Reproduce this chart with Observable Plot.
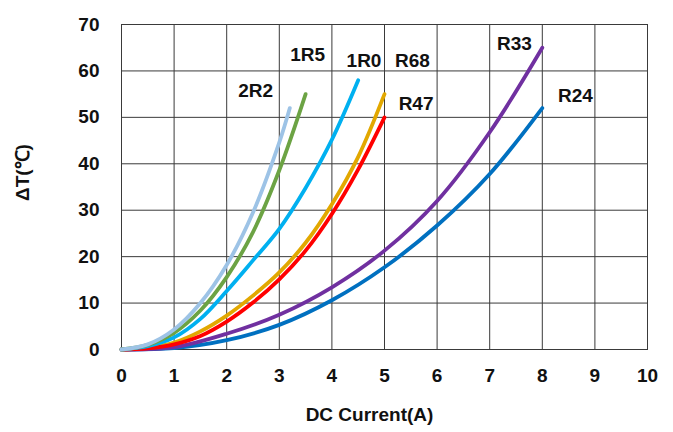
<!DOCTYPE html>
<html><head><meta charset="utf-8">
<script src="https://cdn.jsdelivr.net/npm/d3@7"></script>
<script src="https://cdn.jsdelivr.net/npm/@observablehq/plot@0.6"></script>
<style>
body{margin:0;background:#fff;}
svg{font-family: Arial, "Liberation Sans", sans-serif;}
</style>
</head><body><div id="chart"></div>
<script>
// Series (draw order: first drawn at the bottom)
const seriesNames  = ["R24", "R33", "R68", "R47", "1R0", "1R5", "2R2"];
const seriesColors = ["#0070C0", "#7030A0", "#E2A800", "#FF0000", "#00B0F0", "#6CA344", "#9DC3E6"];

// DC current (A) and temperature rise ΔT (℃) for each part
const current_R24 = [0, 1, 2, 3, 4, 5, 6, 7, 8];
const dT_R24      = [0, 0.3, 2.0, 5.3, 10.6, 17.7, 26.7, 37.8, 52];

const current_R33 = [0, 1, 2, 3, 4, 5, 6, 7, 8];
const dT_R33      = [0, 0.5, 3.4, 7.5, 13.4, 21.3, 32, 46.8, 65];

const current_R68 = [0, 0.5, 1, 1.5, 2, 2.5, 3, 3.5, 4, 4.5, 5];
const dT_R68      = [0, 0.4, 1.5, 3.9, 7.3, 11.6, 16.6, 23, 31.3, 41.5, 55];

const current_R47 = [0, 0.5, 1, 1.5, 2, 2.5, 3, 3.5, 4, 4.5, 5];
const dT_R47      = [0, 0.25, 1.1, 2.9, 6.0, 10.1, 15.1, 21.3, 29.2, 38.8, 50];

const current_1R0 = [0, 0.5, 1, 1.5, 2, 2.5, 3, 3.5, 4, 4.5];
const dT_1R0      = [0, 0.7, 2.6, 6.6, 12.6, 19.2, 26, 34.8, 45.2, 58];

const current_1R5 = [0, 0.5, 1, 1.5, 2, 2.5, 3, 3.5];
const dT_1R5      = [0, 1.0, 3.6, 8.4, 15.6, 25.3, 38.6, 55];

const current_2R2 = [0, 0.5, 1, 1.5, 2, 2.5, 3, 3.2];
const dT_2R2      = [0, 1.1, 4.3, 10, 18.2, 29.5, 44.6, 52];

const seriesCurrent = [current_R24, current_R33, current_R68, current_R47, current_1R0, current_1R5, current_2R2];
const seriesDT      = [dT_R24, dT_R33, dT_R68, dT_R47, dT_1R0, dT_1R5, dT_2R2];

// Curve labels (name, anchor position in data units)
const labelNames = ["2R2", "1R5", "1R0", "R68", "R47", "R33", "R24"];
const labelX     = [2.55, 3.54, 4.61, 5.53, 5.60, 7.47, 8.63];
const labelY     = [55.8, 63.5, 62.1, 62.1, 52.8, 65.9, 54.6];

// Axis ticks
const xTicks = [0, 1, 2, 3, 4, 5, 6, 7, 8, 9, 10];
const yTicks = [0, 10, 20, 30, 40, 50, 60, 70];
const xTitle = "DC Current(A)";
const yTitle = "ΔT(℃)";

// Build tidy table
const rows = [];
seriesNames.forEach((name, i) => {
  seriesCurrent[i].forEach((c, j) => rows.push({series: name, current: c, dT: seriesDT[i][j]}));
});
const labels = labelNames.map((n, i) => ({name: n, x: labelX[i], y: labelY[i]}));

const gridColor = "#3a3a3a";

const chart = Plot.plot({
  width: 673,
  height: 432,
  marginLeft: 121,
  marginRight: 26,
  marginTop: 24,
  marginBottom: 83,
  style: {background: "#fff", fontFamily: "Arial, 'Liberation Sans', sans-serif"},
  x: {domain: [0, 10]},
  y: {domain: [0, 70]},
  color: {domain: seriesNames, range: seriesColors},
  marks: [
    Plot.gridX(xTicks, {stroke: gridColor, strokeOpacity: 1}),
    Plot.gridY(yTicks, {stroke: gridColor, strokeOpacity: 1}),
    Plot.frame({stroke: gridColor}),
    Plot.axisX(xTicks, {tickSize: 0, tickPadding: 19, fontSize: 19, fontWeight: "bold", fill: "#111", label: null}),
    Plot.axisY(yTicks, {tickSize: 0, tickPadding: 22, fontSize: 19, fontWeight: "bold", fill: "#111", label: null}),
    ...seriesNames.map(name => Plot.line(rows.filter(d => d.series === name), {
      x: "current", y: "dT", stroke: "series", strokeWidth: 3.8, curve: "catmull-rom"
    })),
    Plot.text(labels, {x: "x", y: "y", text: "name", fontSize: 19, fontWeight: "bold", fill: "#111"}),
    Plot.text([xTitle], {frameAnchor: "bottom", dx: -15, dy: 71, fontSize: 19, fontWeight: "bold", fill: "#111"}),
    Plot.text([yTitle], {frameAnchor: "left", rotate: -90, dx: -99, dy: 14, fontSize: 19, fontWeight: "bold", fill: "#111"})
  ]
});
document.getElementById("chart").appendChild(chart);
</script>
</body></html>
